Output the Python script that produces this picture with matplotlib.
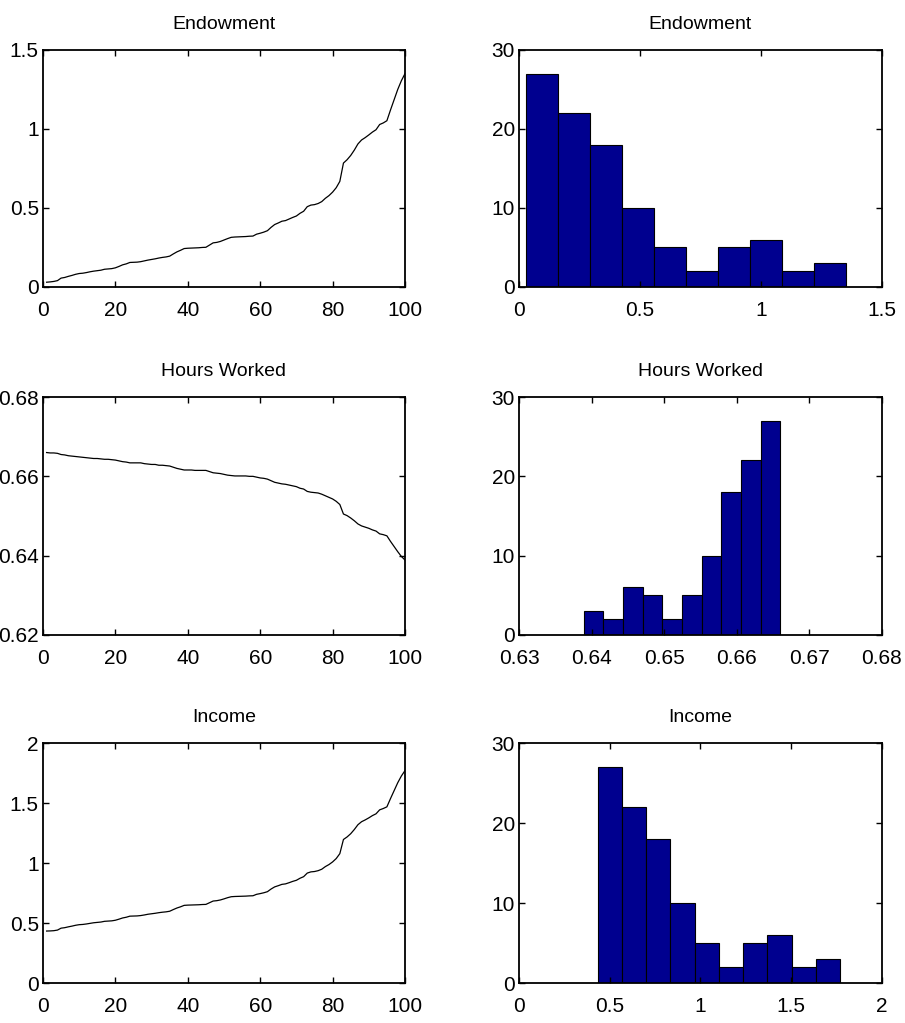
import numpy as np
import matplotlib
matplotlib.use("Agg")
import matplotlib.pyplot as plt
from matplotlib.ticker import FuncFormatter

plt.rcParams['font.family'] = ['Liberation Sans Narrow', 'Liberation Sans', 'DejaVu Sans']

# agent index 1..100 (sorted by endowment)
agents = np.arange(1, 101)

endowment = [
    0.030, 0.032, 0.035, 0.040, 0.056, 0.060, 0.067, 0.073, 0.080, 0.085,
    0.087, 0.091, 0.096, 0.100, 0.103, 0.106, 0.112, 0.114, 0.116, 0.121,
    0.130, 0.140, 0.146, 0.155, 0.156, 0.157, 0.160, 0.165, 0.170, 0.174,
    0.178, 0.183, 0.187, 0.190, 0.195, 0.209, 0.222, 0.232, 0.243, 0.245,
    0.246, 0.247, 0.248, 0.250, 0.251, 0.265, 0.279, 0.282, 0.288, 0.297,
    0.306, 0.314, 0.316, 0.317, 0.318, 0.319, 0.321, 0.322, 0.334, 0.340,
    0.347, 0.356, 0.377, 0.395, 0.405, 0.416, 0.420, 0.430, 0.440, 0.449,
    0.466, 0.479, 0.508, 0.518, 0.521, 0.528, 0.540, 0.561, 0.578, 0.600,
    0.628, 0.668, 0.784, 0.805, 0.832, 0.866, 0.905, 0.930, 0.945, 0.962,
    0.980, 0.995, 1.028, 1.038, 1.052, 1.120, 1.185, 1.250, 1.305, 1.350,
]

hours = [
    0.6660, 0.6659, 0.6659, 0.6658, 0.6655, 0.6654, 0.6652, 0.6651, 0.6650, 0.6649,
    0.6648, 0.6647, 0.6646, 0.6645, 0.6645, 0.6644, 0.6643, 0.6643, 0.6642, 0.6641,
    0.6639, 0.6637, 0.6636, 0.6634, 0.6634, 0.6634, 0.6634, 0.6632, 0.6631, 0.6630,
    0.6630, 0.6628, 0.6628, 0.6627, 0.6626, 0.6623, 0.6620, 0.6618, 0.6616, 0.6616,
    0.6616, 0.6615, 0.6615, 0.6615, 0.6615, 0.6612, 0.6609, 0.6608, 0.6607, 0.6605,
    0.6603, 0.6602, 0.6601, 0.6601, 0.6601, 0.6601, 0.6600, 0.6600, 0.6598, 0.6596,
    0.6595, 0.6593, 0.6589, 0.6585, 0.6583, 0.6581, 0.6580, 0.6578, 0.6576, 0.6574,
    0.6570, 0.6568, 0.6562, 0.6560, 0.6559, 0.6558, 0.6555, 0.6551, 0.6547, 0.6543,
    0.6537, 0.6529, 0.6505, 0.6501, 0.6495, 0.6488, 0.6480, 0.6475, 0.6472, 0.6469,
    0.6465, 0.6462, 0.6455, 0.6453, 0.6450, 0.6436, 0.6423, 0.6410, 0.6398, 0.6389,
]

income = [
    0.433, 0.434, 0.436, 0.441, 0.457, 0.461, 0.468, 0.474, 0.481, 0.486,
    0.488, 0.492, 0.497, 0.502, 0.505, 0.508, 0.514, 0.516, 0.518, 0.523,
    0.532, 0.542, 0.548, 0.557, 0.558, 0.559, 0.562, 0.567, 0.573, 0.577,
    0.581, 0.586, 0.590, 0.593, 0.598, 0.612, 0.625, 0.635, 0.647, 0.649,
    0.650, 0.651, 0.652, 0.654, 0.655, 0.669, 0.683, 0.686, 0.692, 0.701,
    0.711, 0.719, 0.721, 0.722, 0.723, 0.724, 0.726, 0.727, 0.739, 0.745,
    0.752, 0.761, 0.783, 0.801, 0.811, 0.822, 0.826, 0.836, 0.847, 0.856,
    0.873, 0.886, 0.916, 0.926, 0.929, 0.936, 0.948, 0.970, 0.987, 1.009,
    1.037, 1.078, 1.196, 1.217, 1.244, 1.279, 1.319, 1.344, 1.359, 1.376,
    1.395, 1.410, 1.443, 1.454, 1.468, 1.537, 1.603, 1.669, 1.725, 1.770,
]

titles = ["Endowment", "Hours Worked", "Income"]
series = [endowment, hours, income]

line_ylims = [(0, 1.5), (0.62, 0.68), (0, 2)]
line_yticks = [[0, 0.5, 1, 1.5], [0.62, 0.64, 0.66, 0.68], [0, 0.5, 1, 1.5, 2]]
hist_xlims = [(0, 1.5), (0.63, 0.68), (0, 2)]
hist_xticks = [[0, 0.5, 1, 1.5], [0.63, 0.64, 0.65, 0.66, 0.67, 0.68], [0, 0.5, 1, 1.5, 2]]

fig = plt.figure(figsize=(9.05, 10.23), dpi=100)

# axes boxes in figure fractions (left col, right col; three rows)
col_x = [0.0475, 0.5735]
col_w = [0.400, 0.401]
row_y = [0.7195, 0.3793, 0.0391]
row_h = [0.2317, 0.2326, 0.2346]

fmt = FuncFormatter(lambda v, p: "%g" % round(v, 4))


def style(ax):
    ax.tick_params(direction='in', top=True, right=True, length=4, width=1,
                   labelsize=15, pad=3)
    ax.tick_params(axis='x', pad=10)
    for s in ax.spines.values():
        s.set_linewidth(1.3)
    ax.xaxis.set_major_formatter(fmt)
    ax.yaxis.set_major_formatter(fmt)


for i in range(3):
    # sorted profile
    ax = fig.add_axes([col_x[0], row_y[i], col_w[0], row_h[i]])
    ax.plot(agents, series[i], color='black', linewidth=0.9)
    ax.set_xlim(0, 100)
    ax.set_xticks([0, 20, 40, 60, 80, 100])
    ax.set_ylim(*line_ylims[i])
    ax.set_yticks(line_yticks[i])
    ax.set_title(titles[i], fontsize=14, pad=15)
    style(ax)

    # histogram, 10 bins like MATLAB hist()
    ax = fig.add_axes([col_x[1], row_y[i], col_w[1], row_h[i]])
    ax.hist(series[i], bins=10, color='#00008F', edgecolor='black', linewidth=0.8)
    ax.set_xlim(*hist_xlims[i])
    ax.set_xticks(hist_xticks[i])
    ax.set_ylim(0, 30)
    ax.set_yticks([0, 10, 20, 30])
    ax.set_title(titles[i], fontsize=14, pad=15)
    style(ax)

fig.savefig("out.png", dpi=100)
